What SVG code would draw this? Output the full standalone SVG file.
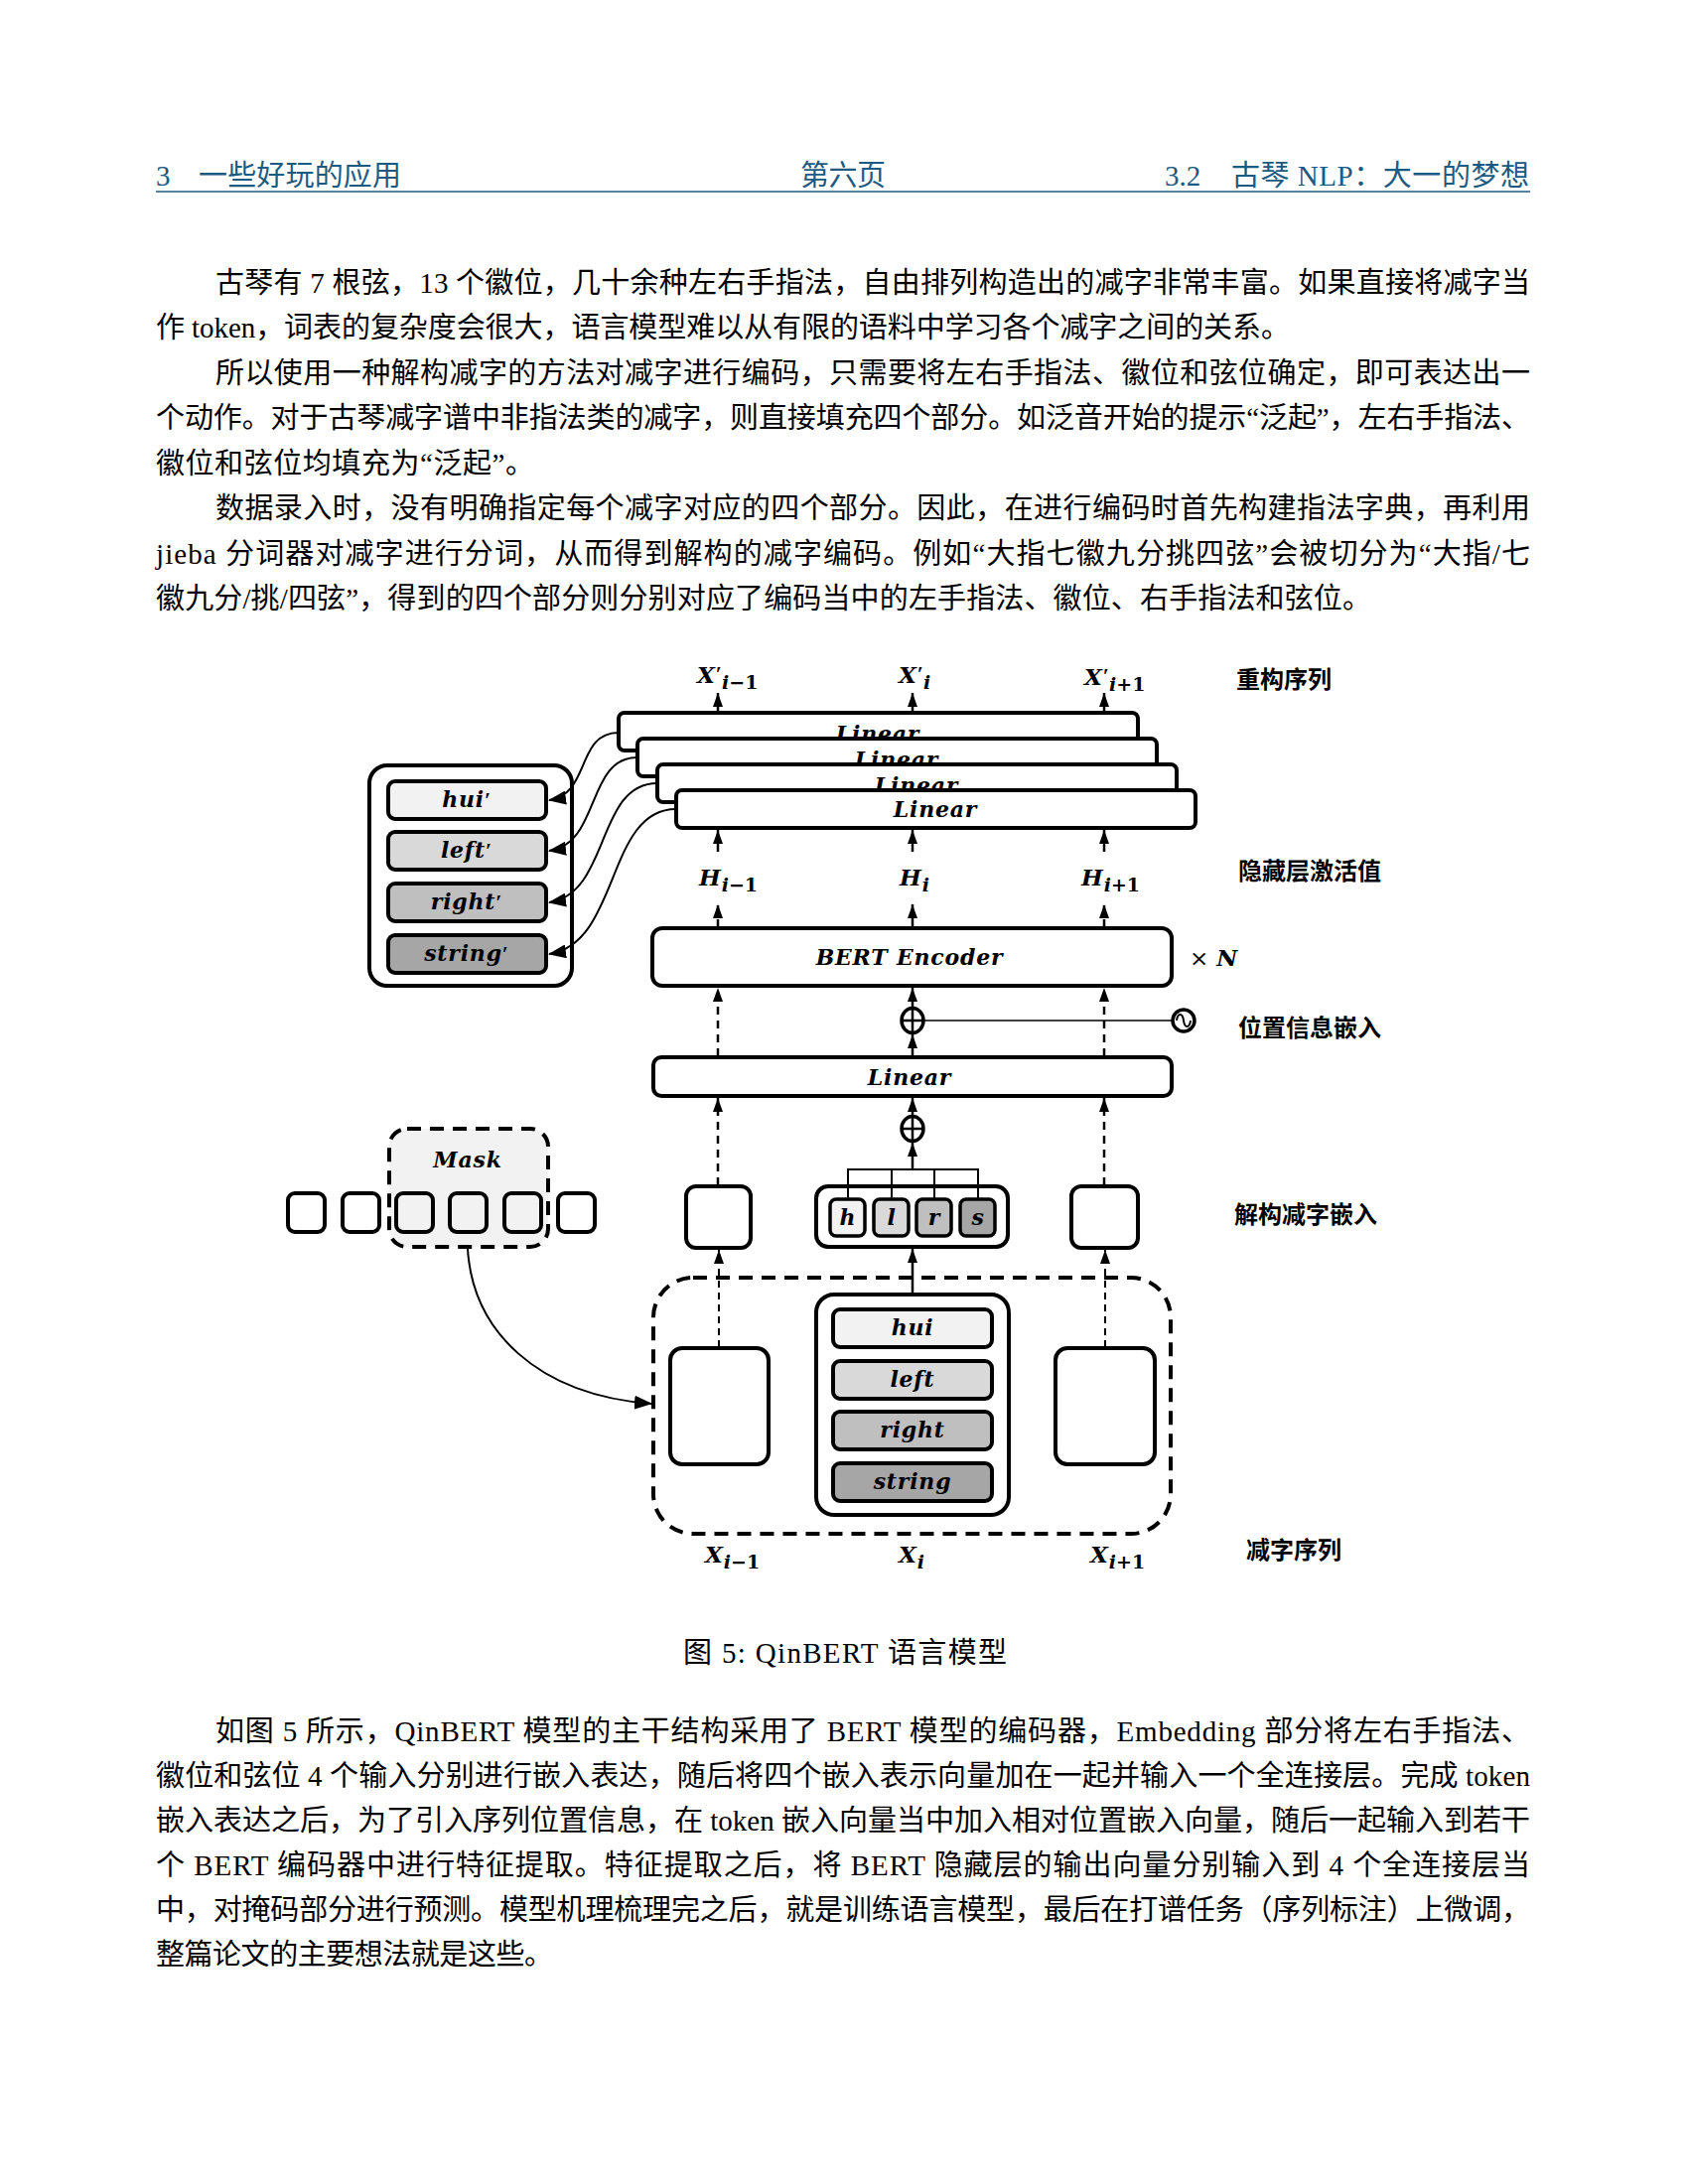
<svg xmlns="http://www.w3.org/2000/svg" width="1700" height="2200" viewBox="0 0 1700 2200">
<defs>
<style>
.box{fill:#fff;stroke:#000;stroke-width:4}
.in{stroke:#000;stroke-width:4}
.g1{fill:#f2f2f2}.g2{fill:#d9d9d9}.g3{fill:#bfbfbf}.g4{fill:#a6a6a6}
.lbl{font-family:"DejaVu Serif","Liberation Serif",serif;font-style:italic;font-weight:bold;font-size:22px;text-anchor:middle;letter-spacing:0.8px;fill:#000}
.math{font-family:"DejaVu Serif","Liberation Serif",serif;font-style:italic;font-weight:bold;font-size:23px;fill:#000}
.sub{font-size:19px}
.up{font-style:normal}
.pr{font-family:"Liberation Serif",serif;font-style:normal;font-weight:bold;font-size:22px}
.cn{font-family:"Noto Sans CJK SC",sans-serif;font-weight:bold;font-size:24px;fill:#000}
.body{font-family:"Liberation Serif","Noto Sans CJK SC",serif;font-size:29px;fill:#000}
.hdr{font-family:"Liberation Serif","Noto Sans CJK SC",serif;font-size:29px;fill:#1c5a82}
.dash{stroke:#000;stroke-width:2.5;stroke-dasharray:8 6;fill:none}
.thin{stroke:#000;stroke-width:2;stroke-dasharray:7 5;fill:none}
.solid{stroke:#000;stroke-width:2.5;fill:none}
.curve{stroke:#000;stroke-width:2;fill:none}
.dbox{fill:none;stroke:#000;stroke-width:4;stroke-dasharray:14 9}
</style>
<marker id="ah" viewBox="0 0 14 10" refX="14" refY="5" markerWidth="14" markerHeight="10" markerUnits="userSpaceOnUse" orient="auto"><path d="M0,0 L14,5 L0,10 z" fill="#000"/></marker>
<marker id="ah2" viewBox="0 0 18 14" refX="17" refY="7" markerWidth="18" markerHeight="14" markerUnits="userSpaceOnUse" orient="auto"><path d="M0,0 L18,7 L0,14 z" fill="#000"/></marker>
</defs>
<rect width="1700" height="2200" fill="#fff"/>

<g id="header">
<text class="hdr" x="157" y="187">3</text>
<text class="hdr" x="200" y="187" textLength="204" lengthAdjust="spacing">一些好玩的应用</text>
<text class="hdr" x="806" y="187" textLength="86" lengthAdjust="spacing">第六页</text>
<text class="hdr" x="1173" y="187">3.2</text>
<text class="hdr" x="1240" y="187" textLength="300" lengthAdjust="spacing">古琴 NLP：大一的梦想</text>
<line x1="157" y1="193" x2="1541" y2="193" stroke="#1c5a82" stroke-width="1.6"/>
</g>

<g id="intro-text">
<text class="body" x="217" y="295" textLength="1324" lengthAdjust="spacing">古琴有 7 根弦，13 个徽位，几十余种左右手指法，自由排列构造出的减字非常丰富。如果直接将减字当</text>
<text class="body" x="157" y="340" textLength="1142" lengthAdjust="spacing">作 token，词表的复杂度会很大，语言模型难以从有限的语料中学习各个减字之间的关系。</text>
<text class="body" x="217" y="386" textLength="1324" lengthAdjust="spacing">所以使用一种解构减字的方法对减字进行编码，只需要将左右手指法、徽位和弦位确定，即可表达出一</text>
<text class="body" x="157" y="431" textLength="1384" lengthAdjust="spacing">个动作。对于古琴减字谱中非指法类的减字，则直接填充四个部分。如泛音开始的提示“泛起”，左右手指法、</text>
<text class="body" x="157" y="477" textLength="381" lengthAdjust="spacing">徽位和弦位均填充为“泛起”。</text>
<text class="body" x="217" y="522" textLength="1324" lengthAdjust="spacing">数据录入时，没有明确指定每个减字对应的四个部分。因此，在进行编码时首先构建指法字典，再利用</text>
<text class="body" x="157" y="568" textLength="1384" lengthAdjust="spacing">jieba 分词器对减字进行分词，从而得到解构的减字编码。例如“大指七徽九分挑四弦”会被切分为“大指/七</text>
<text class="body" x="157" y="613" textLength="1224" lengthAdjust="spacing">徽九分/挑/四弦”，得到的四个部分则分别对应了编码当中的左手指法、徽位、右手指法和弦位。</text>
</g>

<g id="linear-1"><rect class="box" x="623" y="718" width="523" height="38" rx="6"/><text class="lbl" x="884" y="747">Linear</text></g>
<g id="linear-2"><rect class="box" x="642" y="744" width="523" height="38" rx="6"/><text class="lbl" x="903" y="773">Linear</text></g>
<g id="linear-3"><rect class="box" x="662" y="770" width="523" height="38" rx="6"/><text class="lbl" x="923" y="799">Linear</text></g>
<g id="linear-4"><rect class="box" x="681" y="796" width="523" height="38" rx="6"/><text class="lbl" x="942" y="823">Linear</text></g>

<g id="output-parts">
<rect class="box" x="372" y="771" width="204" height="222" rx="18"/>
<rect class="in g1" x="391" y="787" width="159" height="38" rx="7"/><text class="lbl" x="470" y="813">hui<tspan class="pr">′</tspan></text>
<rect class="in g2" x="391" y="838" width="159" height="38" rx="7"/><text class="lbl" x="470" y="864">left<tspan class="pr">′</tspan></text>
<rect class="in g3" x="391" y="890" width="159" height="38" rx="7"/><text class="lbl" x="470" y="916">right<tspan class="pr">′</tspan></text>
<rect class="in g4" x="391" y="942" width="159" height="38" rx="7"/><text class="lbl" x="470" y="968">string<tspan class="pr">′</tspan></text>
</g>

<g id="labels-top">
<text class="math" x="702" y="688">X<tspan class="pr" dx="1" dy="-2">′</tspan><tspan class="sub" dy="8" dx="0">i</tspan><tspan class="sub up">−1</tspan></text>
<text class="math" x="905" y="688">X<tspan class="pr" dx="1" dy="-2">′</tspan><tspan class="sub" dy="8" dx="0">i</tspan></text>
<text class="math" x="1092" y="690">X<tspan class="pr" dx="1" dy="-2">′</tspan><tspan class="sub" dy="8" dx="0">i</tspan><tspan class="sub up">+1</tspan></text>
<text class="cn" x="1245" y="693">重构序列</text>
</g>

<g id="labels-hidden">
<text class="math" x="704" y="892">H<tspan class="sub" dy="6" dx="1">i</tspan><tspan class="sub up">−1</tspan></text>
<text class="math" x="906" y="892">H<tspan class="sub" dy="6" dx="1">i</tspan></text>
<text class="math" x="1089" y="892">H<tspan class="sub" dy="6" dx="1">i</tspan><tspan class="sub up">+1</tspan></text>
<text class="cn" x="1247" y="886">隐藏层激活值</text>
</g>

<g id="bert-encoder"><rect class="box" x="657" y="935" width="523" height="58" rx="10"/><text class="lbl" x="916" y="972">BERT Encoder</text></g>
<g id="times-n"><text class="math" x="1198" y="973"><tspan class="up" font-weight="normal">×</tspan> N</text></g>

<g id="pos-add"><ellipse cx="919" cy="1028" rx="11" ry="12.5" fill="#fff" stroke="#000" stroke-width="3.5"/><path d="M908,1028 H930 M919,1016 V1041" stroke="#000" stroke-width="2.5"/></g>
<g id="pos-source"><circle cx="1192" cy="1028" r="11" fill="#fff" stroke="#000" stroke-width="3.5"/><path d="M1185,1028 C1186,1020 1191,1020 1192,1028 C1193,1036 1198,1036 1199,1028" fill="none" stroke="#000" stroke-width="2"/></g>
<g id="label-pos"><text class="cn" x="1247" y="1044">位置信息嵌入</text></g>

<g id="linear-emb"><rect class="box" x="658" y="1065" width="522" height="39" rx="8"/><text class="lbl" x="916" y="1093">Linear</text></g>

<g id="emb-add"><ellipse cx="919" cy="1137" rx="11" ry="12.5" fill="#fff" stroke="#000" stroke-width="3.5"/><path d="M908,1137 H930 M919,1125 V1150" stroke="#000" stroke-width="2.5"/></g>

<g id="mask">
<rect x="392" y="1137" width="160" height="119" rx="18" fill="#f2f2f2" stroke="#000" stroke-width="4" stroke-dasharray="14 9"/>
<text class="lbl" x="471" y="1176">Mask</text>
<rect x="290" y="1202" width="37" height="39" rx="7" fill="none" stroke="#000" stroke-width="4"/>
<rect x="345" y="1202" width="37" height="39" rx="7" fill="none" stroke="#000" stroke-width="4"/>
<rect x="399" y="1202" width="37" height="39" rx="7" fill="none" stroke="#000" stroke-width="4"/>
<rect x="453" y="1202" width="37" height="39" rx="7" fill="none" stroke="#000" stroke-width="4"/>
<rect x="508" y="1202" width="37" height="39" rx="7" fill="none" stroke="#000" stroke-width="4"/>
<rect x="562" y="1202" width="37" height="39" rx="7" fill="none" stroke="#000" stroke-width="4"/>
</g>

<g id="emb-prev"><rect class="box" x="691" y="1195" width="65" height="62" rx="10"/></g>
<g id="emb-next"><rect class="box" x="1079" y="1195" width="67" height="62" rx="10"/></g>
<g id="emb-cur">
<rect class="box" x="822" y="1195" width="193" height="61" rx="12"/>
<rect class="g1" x="836" y="1208" width="35" height="37" rx="6" stroke="#000" stroke-width="3.5"/><text class="lbl" x="854" y="1234">h</text>
<rect class="g2" x="880" y="1208" width="35" height="37" rx="6" stroke="#000" stroke-width="3.5"/><text class="lbl" x="898" y="1234">l</text>
<rect class="g3" x="923" y="1208" width="35" height="37" rx="6" stroke="#000" stroke-width="3.5"/><text class="lbl" x="941" y="1234">r</text>
<rect class="g4" x="967" y="1208" width="35" height="37" rx="6" stroke="#000" stroke-width="3.5"/><text class="lbl" x="985" y="1234">s</text>
</g>
<g id="label-emb"><text class="cn" x="1243" y="1232">解构减字嵌入</text></g>

<g id="sequence">
<rect class="dbox" x="658" y="1287" width="521" height="258" rx="40"/>
<rect class="box" x="675" y="1358" width="99" height="117" rx="12"/>
<rect class="box" x="1063" y="1358" width="100" height="117" rx="12"/>
<rect class="box" x="822" y="1304" width="194" height="222" rx="18"/>
<rect class="in g1" x="839" y="1319" width="160" height="38" rx="7"/><text class="lbl" x="919" y="1345">hui</text>
<rect class="in g2" x="839" y="1371" width="160" height="38" rx="7"/><text class="lbl" x="919" y="1397">left</text>
<rect class="in g3" x="839" y="1422" width="160" height="38" rx="7"/><text class="lbl" x="919" y="1448">right</text>
<rect class="in g4" x="839" y="1474" width="160" height="38" rx="7"/><text class="lbl" x="919" y="1500">string</text>
</g>

<g id="labels-bottom">
<text class="math" x="710" y="1574">X<tspan class="sub" dy="6" dx="1">i</tspan><tspan class="sub up">−1</tspan></text>
<text class="math" x="905" y="1574">X<tspan class="sub" dy="6" dx="1">i</tspan></text>
<text class="math" x="1098" y="1574">X<tspan class="sub" dy="6" dx="1">i</tspan><tspan class="sub up">+1</tspan></text>
<text class="cn" x="1255" y="1570">减字序列</text>
</g>

<g id="connectors">
<path class="dash" d="M723,718 V698" marker-end="url(#ah)"/>
<path class="solid" d="M919,718 V698" marker-end="url(#ah)"/>
<path class="dash" d="M1112,718 V698" marker-end="url(#ah)"/>
<path class="dash" d="M723,858 V836" marker-end="url(#ah)"/>
<path class="solid" d="M919,858 V836" marker-end="url(#ah)"/>
<path class="dash" d="M1112,858 V836" marker-end="url(#ah)"/>
<path class="dash" d="M723,934 V911" marker-end="url(#ah)"/>
<path class="solid" d="M919,934 V911" marker-end="url(#ah)"/>
<path class="dash" d="M1112,934 V911" marker-end="url(#ah)"/>
<path class="dash" d="M723,1064 V995" marker-end="url(#ah)"/>
<path class="dash" d="M1112,1064 V995" marker-end="url(#ah)"/>
<path class="solid" d="M919,1015 V995" marker-end="url(#ah)"/>
<path class="solid" d="M919,1064 V1042" marker-end="url(#ah)"/>
<path d="M931,1028 H1181" stroke="#000" stroke-width="1.5" fill="none"/>
<path class="dash" d="M723,1194 V1106" marker-end="url(#ah)"/>
<path class="dash" d="M1112,1194 V1106" marker-end="url(#ah)"/>
<path class="solid" d="M919,1123 V1106" marker-end="url(#ah)"/>
<path class="solid" d="M919,1178 V1151" marker-end="url(#ah)"/>
<path d="M854,1208 V1178 H985 V1208 M898,1178 V1208 M941,1178 V1208" stroke="#000" stroke-width="2" fill="none"/>
<path class="thin" d="M724,1357 V1259" marker-end="url(#ah)"/>
<path class="thin" d="M1113,1357 V1259" marker-end="url(#ah)"/>
<path class="solid" d="M919,1303 V1258" marker-end="url(#ah)"/>
<path class="curve" d="M471,1258 C476,1340 540,1405 656,1414" marker-end="url(#ah2)"/>
<path class="curve" d="M623,738 C580,738 595,800 553,806" marker-end="url(#ah2)"/>
<path class="curve" d="M642,763 C590,763 605,850 553,857" marker-end="url(#ah2)"/>
<path class="curve" d="M662,789 C600,789 615,900 553,909" marker-end="url(#ah2)"/>
<path class="curve" d="M681,815 C610,815 625,950 553,961" marker-end="url(#ah2)"/>
</g>

<g id="caption"><text class="body" x="688" y="1675" textLength="326" lengthAdjust="spacing">图 5: QinBERT 语言模型</text></g>

<g id="closing-text">
<text class="body" x="217" y="1754" textLength="1324" lengthAdjust="spacing">如图 5 所示，QinBERT 模型的主干结构采用了 BERT 模型的编码器，Embedding 部分将左右手指法、</text>
<text class="body" x="157" y="1799" textLength="1384" lengthAdjust="spacing">徽位和弦位 4 个输入分别进行嵌入表达，随后将四个嵌入表示向量加在一起并输入一个全连接层。完成 token</text>
<text class="body" x="157" y="1844" textLength="1384" lengthAdjust="spacing">嵌入表达之后，为了引入序列位置信息，在 token 嵌入向量当中加入相对位置嵌入向量，随后一起输入到若干</text>
<text class="body" x="157" y="1889" textLength="1384" lengthAdjust="spacing">个 BERT 编码器中进行特征提取。特征提取之后，将 BERT 隐藏层的输出向量分别输入到 4 个全连接层当</text>
<text class="body" x="157" y="1934" textLength="1384" lengthAdjust="spacing">中，对掩码部分进行预测。模型机理梳理完之后，就是训练语言模型，最后在打谱任务（序列标注）上微调，</text>
<text class="body" x="157" y="1979" textLength="400" lengthAdjust="spacing">整篇论文的主要想法就是这些。</text>
</g>
</svg>
